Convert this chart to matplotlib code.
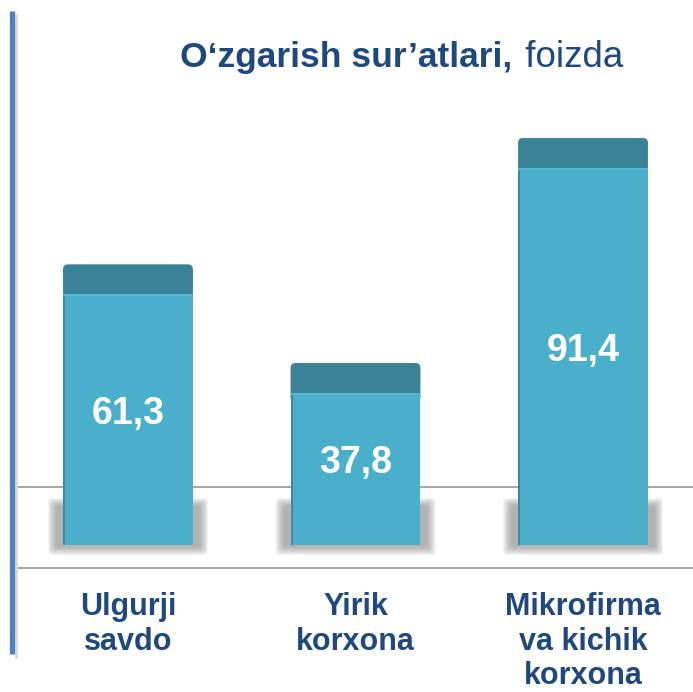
import matplotlib
matplotlib.use("Agg")
import matplotlib.pyplot as plt
from matplotlib.patches import FancyBboxPatch
from matplotlib.lines import Line2D

categories = ["Ulgurji\nsavdo", "Yirik\nkorxona", "Mikrofirma\nva kichik\nkorxona"]
values = [61.3, 37.8, 91.4]
value_labels = ["61,3", "37,8", "91,4"]

title_bold = "O\u2018zgarish sur\u2019atlari,"
title_regular = " foizda"

body_color = "#4AAFCA"
cap_color = "#3A8396"
edge_color = "#3A8BA1"
text_color = "#1F497D"

plt.rcParams['font.family'] = ['Liberation Sans', 'DejaVu Sans']

W, H = 693, 692
fig = plt.figure(figsize=(W / 100, H / 100), dpi=100)
ax = fig.add_axes([0, 0, 1, 1])
ax.set_xlim(-0.5626, 2.4835)
ax.set_ylim(-40.57, 124.27)
ax.axis('off')

px_x = 1 / 227.5   # one pixel in x data units
px_y = 1 / 4.198   # one pixel in y data units

width = 0.571
base = 5.55   # 3d foot below zero
cap = 7.3     # darker top cap
x = list(range(len(values)))

# decorative horizontal rules
ax.axhline(8.27, xmin=14 / W, xmax=1, color="#A6A6A6", lw=1.4, zorder=1)
ax.axhline(-11.0, xmin=14 / W, xmax=1, color="#A6A6A6", lw=1.4, zorder=1)

# left accent line with a faint shadow
fig.add_artist(Line2D([15.5 / W, 15.5 / W], [1 - 14 / H, 1 - 658 / H],
                      color="#D9D9D9", lw=2, solid_capstyle='butt'))
fig.add_artist(Line2D([11.5 / W, 11.5 / W], [1 - 11 / H, 1 - 654 / H],
                      color="#4F81BD", lw=3.8, solid_capstyle='butt'))

for xi, v in zip(x, values):
    left = xi - width / 2
    # soft shadow at the foot
    for k in range(9):
        pad = 9 - k
        sh = FancyBboxPatch((left - (6 + pad) * px_x, -base - (1 + pad) * px_y),
                            width + 2 * (6 + pad) * px_x, 9.3 + (2 * pad) * px_y,
                            boxstyle="round,pad=0,rounding_size=%f" % (4 * px_x),
                            mutation_aspect=px_y / px_x,
                            fc="#7F7F7F", ec="none", alpha=0.09, zorder=2)
        ax.add_patch(sh)

    # cap with rounded top corners
    cp = FancyBboxPatch((left, v - cap - 2), width, cap + 2,
                        boxstyle="round,pad=0,rounding_size=%f" % (5 * px_x),
                        mutation_aspect=px_y / px_x,
                        fc=cap_color, ec="none", zorder=3)
    ax.add_patch(cp)

ax.bar(x, [v - cap + base for v in values], width=width, bottom=-base,
       color=body_color, zorder=4)
ax.bar([xi - width / 2 + 1 * px_x for xi in x], [v - cap + base for v in values],
       width=2 * px_x, bottom=-base, color=edge_color, zorder=5)
ax.bar(x, [0.5] * len(values), width=width, bottom=[v - cap - 0.25 for v in values],
       color="#58B7D0", zorder=5)

for xi, v, lab in zip(x, values, value_labels):
    ax.text(xi, (v - cap - base) / 2 + 1.5, lab, ha='center', va='center',
            fontsize=27, fontweight='bold', color='white', zorder=6)

for xi, cat in zip(x, categories):
    ax.text(xi, -16.75, cat, ha='center', va='top', fontsize=22,
            fontweight='bold', color=text_color, linespacing=1.2)

tb = fig.text(180 / W, 1 - 67 / H, title_bold, ha='left', va='baseline',
              fontsize=25.5, fontweight='bold', color=text_color)
fig.canvas.draw()
bb = tb.get_window_extent()
fig.text((bb.x1 + 3) / W, 1 - 67 / H, title_regular, ha='left', va='baseline',
         fontsize=26.5, color=text_color)

fig.savefig("out.png", dpi=100)
